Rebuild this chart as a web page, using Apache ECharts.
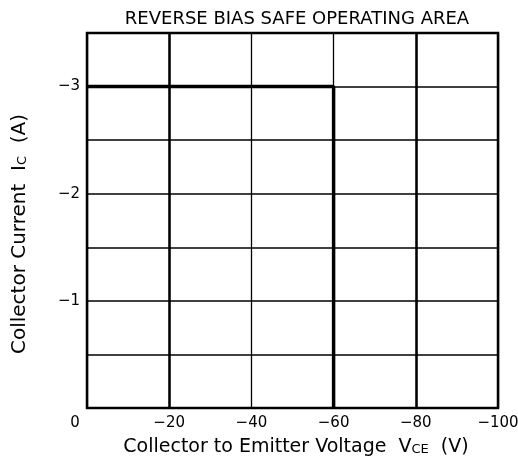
<!DOCTYPE html>
<html><head><meta charset="utf-8">
<script src="https://cdn.jsdelivr.net/npm/echarts@6/dist/echarts.min.js"></script>
<style>html,body{margin:0;padding:0;background:#fff}#c{width:518px;height:467px}</style>
</head><body><div id="c"></div>
<script>
// Data
const soaVce = [0, -60, -60];
const soaIc = [-3, -3, 0];
const xTicks = [0, -20, -40, -60, -80, -100];
const yTicks = [0, -1, -2, -3];
const boldGridVce = [-20, -80];

const fmt = v => v === 0 ? '0' : '\u2212' + Math.abs(v);
const chart = echarts.init(document.getElementById('c'), null, {renderer: 'canvas'});
const FONT = 'DejaVu Sans, sans-serif';
chart.setOption({
  animation: false,
  title: {
    text: 'REVERSE BIAS SAFE OPERATING AREA',
    left: 292, top: 5, textAlign: 'center',
    textStyle: {fontFamily: FONT, fontWeight: 'normal', fontSize: 18, color: '#000'}
  },
  grid: {left: 87, right: 20, top: 33, bottom: 59, outerBoundsMode: 'none', containLabel: false,
    show: true, borderColor: '#000', borderWidth: 2.5, backgroundColor: 'transparent'},
  xAxis: {
    type: 'value', min: -100, max: 0, interval: 20, inverse: true,
    axisLine: {show: false}, axisTick: {show: false},
    splitLine: {show: true, lineStyle: {color: '#000', width: 1.3}},
    axisLabel: {
      margin: 8, fontFamily: FONT, fontSize: 15, color: '#000',
      formatter: v => xTicks.includes(v) ? (v === 0 ? '{z|0}' : fmt(v)) : '',
      rich: {z: {fontFamily: FONT, fontSize: 15, color: '#000', padding: [0, 24, 0, 0]}}
    },
    name: 'Collector to Emitter Voltage  V{s|CE}  (V)',
    nameLocation: 'middle', nameGap: 30,
    nameTextStyle: {fontFamily: FONT, fontSize: 19, color: '#000', padding: [0, 0, 0, 7],
      rich: {s: {fontFamily: FONT, fontSize: 13, color: '#000', padding: [4, 0, 0, 0]}}}
  },
  yAxis: {
    type: 'value', min: -3.5, max: 0, interval: 0.5, inverse: true,
    axisLine: {show: false}, axisTick: {show: false},
    splitLine: {show: true, lineStyle: {color: '#000', width: 1.5}},
    axisLabel: {
      margin: 7, fontFamily: FONT, fontSize: 15, color: '#000',
      formatter: v => (v !== 0 && yTicks.includes(v)) ? fmt(v) : ''
    },
    name: 'Collector Current  I{s|C}  (A)',
    nameLocation: 'middle', nameGap: 57, nameRotate: 90,
    nameTextStyle: {fontFamily: FONT, fontSize: 20, color: '#000', padding: [0, 27, 0, 0],
      rich: {s: {fontFamily: FONT, fontSize: 13, color: '#000', padding: [5, 0, 0, 0]}}}
  },
  series: [{
    type: 'line', data: soaVce.map((x, i) => [x, soaIc[i]]),
    symbol: 'none', lineStyle: {color: '#000', width: 3.5},
    markLine: {
      symbol: 'none', silent: true, label: {show: false},
      lineStyle: {color: '#000', width: 2.5, type: 'solid'},
      data: boldGridVce.map(v => ({xAxis: v}))
    }
  }]
});
</script></body></html>
